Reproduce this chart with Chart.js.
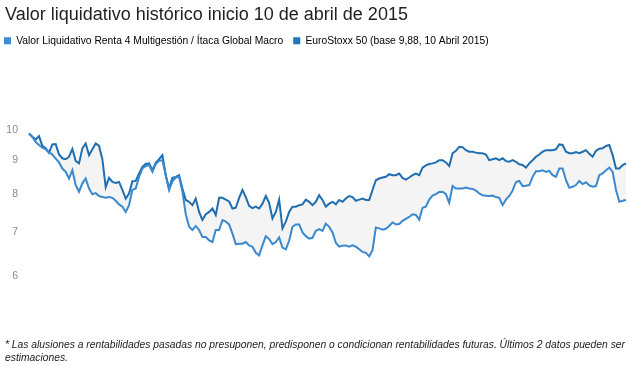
<!DOCTYPE html>
<html>
<head>
<meta charset="utf-8">
<script src="https://cdn.jsdelivr.net/npm/chart.js@4"></script>
<style>
  html, body { margin: 0; padding: 0; background: #fff; }
  #wrap { position: relative; width: 636px; height: 366px; }
  #nota { position: absolute; left: 5px; top: 338px; width: 631px; font: italic 10.3px 'Liberation Sans Narrow', sans-serif; line-height: 13px; color: #222; white-space: nowrap; }
</style>
</head>
<body>
<div id="wrap">
  <canvas id="grafica" width="636" height="366"></canvas>
  <div id="nota">* Las alusiones a rentabilidades pasadas no presuponen, predisponen o condicionan rentabilidades futuras. Últimos 2 datos pueden ser<br>estimaciones.</div>
</div>
<script>
// Valor liquidativo del fondo (linea inferior, azul claro)
const valorFondo = [
  9.88, 9.76, 9.59, 9.49, 9.40, 9.35, 9.25, 9.18, 9.05, 8.93,
  8.74, 8.64, 8.44, 8.69, 8.25, 8.06, 8.30, 8.44, 8.15, 7.99,
  8.02, 7.94, 7.91, 7.89, 7.91, 7.89, 7.81, 7.71, 7.65, 7.51,
  7.69, 8.11, 8.15, 8.49, 8.74, 8.82, 8.85, 8.64, 8.88, 8.98,
  9.00, 8.54, 8.11, 8.36, 8.47, 8.49, 8.06, 7.45, 7.13, 7.05,
  7.15, 7.05, 6.88, 6.88, 6.80, 6.76, 7.05, 7.05, 7.30, 7.26,
  7.19, 6.96, 6.71, 6.72, 6.72, 6.76, 6.68, 6.65, 6.51, 6.45,
  6.68, 6.90, 6.83, 6.71, 6.76, 6.87, 6.63, 6.59, 6.79, 7.13,
  7.19, 7.19, 6.99, 6.90, 6.84, 6.86, 7.03, 7.07, 7.03, 7.21,
  7.13, 6.99, 6.74, 6.65, 6.67, 6.68, 6.65, 6.68, 6.65, 6.59,
  6.53, 6.51, 6.43, 6.57, 7.11, 7.09, 7.06, 7.08, 7.15, 7.24,
  7.19, 7.20, 7.28, 7.33, 7.38, 7.45, 7.43, 7.31, 7.62, 7.65,
  7.84, 7.95, 7.99, 8.05, 8.06, 7.99, 7.75, 8.22, 8.15, 8.15,
  8.15, 8.18, 8.15, 8.14, 8.09, 8.01, 7.96, 7.95, 7.94, 7.95,
  7.91, 7.89, 7.69, 7.84, 7.94, 8.09, 8.34, 8.37, 8.22, 8.23,
  8.25, 8.49, 8.66, 8.66, 8.69, 8.64, 8.67, 8.54, 8.49, 8.74,
  8.74, 8.39, 8.17, 8.20, 8.25, 8.37, 8.28, 8.33, 8.24, 8.20,
  8.22, 8.54, 8.59, 8.69, 8.77, 8.64, 8.11, 7.78, 7.81, 7.83
];

// EuroStoxx 50 en base 9,88 (linea superior, azul oscuro)
const euroStoxx = [
  9.88, 9.77, 9.68, 9.79, 9.46, 9.38, 9.24, 9.51, 9.52, 9.18,
  9.06, 9.03, 9.11, 9.36, 8.98, 8.90, 9.38, 9.54, 9.16, 9.35,
  9.54, 9.46, 9.03, 8.19, 8.46, 8.34, 8.31, 8.34, 8.11, 7.87,
  8.01, 8.36, 8.37, 8.59, 8.79, 8.88, 8.90, 8.69, 8.92, 9.03,
  9.16, 8.54, 8.15, 8.46, 8.49, 8.54, 8.15, 7.83, 7.78, 7.69,
  7.87, 7.51, 7.30, 7.45, 7.51, 7.60, 7.43, 7.89, 7.89, 7.84,
  7.79, 7.60, 7.62, 7.89, 8.11, 7.91, 7.67, 7.61, 7.65, 7.60,
  7.73, 7.94, 7.75, 7.34, 7.51, 7.84, 7.09, 7.26, 7.51, 7.65,
  7.65, 7.69, 7.71, 7.84, 7.78, 7.69, 7.78, 7.96, 7.83, 7.65,
  7.73, 7.78, 7.71, 7.83, 7.78, 7.87, 7.94, 7.91, 7.81, 7.84,
  7.87, 7.83, 7.83, 8.11, 8.39, 8.44, 8.47, 8.49, 8.57, 8.54,
  8.54, 8.59, 8.46, 8.41, 8.47, 8.54, 8.59, 8.54, 8.77, 8.84,
  8.88, 8.90, 8.93, 9.00, 9.00, 8.93, 8.82, 9.22, 9.30, 9.43,
  9.42, 9.32, 9.27, 9.27, 9.24, 9.22, 9.22, 9.18, 9.00, 9.03,
  9.06, 9.00, 9.06, 8.97, 8.95, 9.00, 8.95, 8.87, 8.85, 8.77,
  8.90, 9.00, 9.11, 9.18, 9.27, 9.32, 9.32, 9.32, 9.35, 9.51,
  9.49, 9.27, 9.22, 9.22, 9.26, 9.22, 9.27, 9.32, 9.20, 9.11,
  9.30, 9.37, 9.38, 9.46, 9.49, 9.16, 8.74, 8.74, 8.85, 8.90
];

const ticksY = [10, 9, 8, 7, 6];
const etiquetas = valorFondo.map((_, i) => i);

// La leyenda de Chart.js empieza tras su padding; la pegamos al margen izquierdo
const moverLeyenda = {
  id: 'moverLeyenda',
  afterLayout(chart) {
    chart.legend.left = -6;
  }
};

Chart.defaults.font.family = "'Liberation Sans Narrow', 'Liberation Sans', sans-serif";

const ctx = document.getElementById('grafica').getContext('2d');
new Chart(ctx, {
  type: 'line',
  data: {
    labels: etiquetas,
    datasets: [
      {
        label: 'Valor Liquidativo Renta 4 Multigestión / Ítaca Global Macro',
        data: valorFondo,
        borderColor: '#3a89cf',
        backgroundColor: '#3c8dd6',
        borderWidth: 2,
        pointRadius: 0,
        tension: 0,
        fill: { target: '+1', above: '#f4f4f4', below: '#f4f4f4' }
      },
      {
        label: 'EuroStoxx 50 (base 9,88, 10 Abril 2015)',
        data: euroStoxx,
        borderColor: '#1f6eb0',
        backgroundColor: '#2373b7',
        borderWidth: 2,
        pointRadius: 0,
        tension: 0,
        fill: false
      }
    ]
  },
  options: {
    responsive: false,
    animation: false,
    layout: { padding: { left: 5, right: 10, top: 0, bottom: 65 } },
    plugins: {
      filler: { drawTime: 'beforeDatasetsDraw' },
      tooltip: { enabled: false },
      title: {
        display: true,
        text: 'Valor liquidativo histórico inicio 10 de abril de 2015',
        align: 'start',
        color: '#222',
        font: { size: 18, weight: 'normal' },
        padding: { top: 4, bottom: 0 }
      },
      legend: {
        position: 'top',
        align: 'start',
        labels: {
          boxWidth: 7,
          boxHeight: 7,
          padding: 10,
          color: '#222',
          font: { size: 10.3 },
          generateLabels: (chart) => chart.data.datasets.map((ds, i) => ({
            text: ds.label,
            fillStyle: ds.backgroundColor,
            strokeStyle: ds.backgroundColor,
            lineWidth: 0,
            hidden: false,
            datasetIndex: i
          }))
        }
      }
    },
    scales: {
      x: { type: 'category', display: false, offset: false },
      y: {
        type: 'logarithmic',
        min: 5.5,
        max: 12.96,
        grid: { display: false, drawTicks: false },
        border: { display: false },
        afterFit: (scale) => { scale.width = 24; },
        afterBuildTicks: (scale) => { scale.ticks = ticksY.map(v => ({ value: v })); },
        ticks: {
          padding: 11,
          color: '#8a8a8a',
          font: { family: "'Liberation Sans', sans-serif", size: 10.5 },
          callback: (v) => String(v)
        }
      }
    }
  },
  plugins: [moverLeyenda]
});
</script>
</body>
</html>
